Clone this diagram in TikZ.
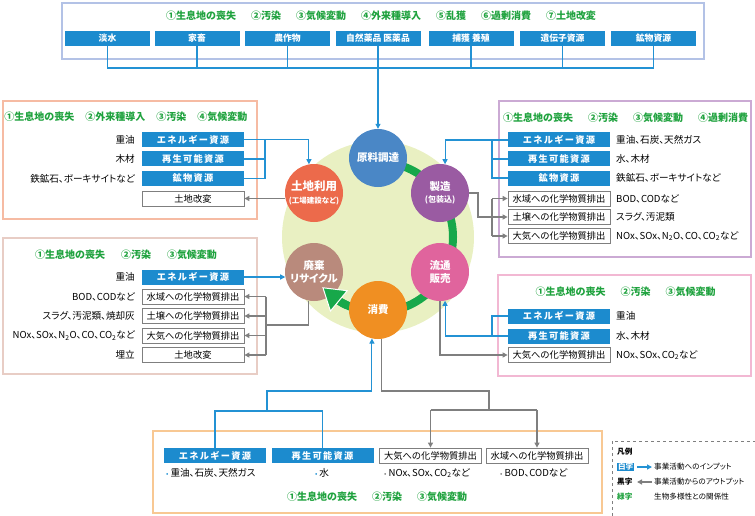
\documentclass[tikz,border=0pt]{standalone}
\usepackage{fontspec}
\setmainfont{Noto Sans CJK JP}[RawFeature=+palt]
\newfontfamily\plainfont{Noto Sans CJK JP}
\newfontfamily\bxfont{Noto Sans CJK JP}[LetterSpace=14]
\usetikzlibrary{arrows.meta,bending}
\definecolor{boxblue}{HTML}{1C8BCE}
\definecolor{lineblue}{HTML}{2392D4}
\definecolor{linegray}{HTML}{7F7F7F}
\definecolor{headgreen}{HTML}{1FA23E}
\definecolor{frtop}{HTML}{B3C2E6}
\definecolor{frlt}{HTML}{F6BBA3}
\definecolor{frlm}{HTML}{E8CDC5}
\definecolor{frrt}{HTML}{CBAAD4}
\definecolor{frrm}{HTML}{F2B8D3}
\definecolor{frbt}{HTML}{F8C893}
\definecolor{pale}{HTML}{E9F0C2}
\definecolor{ringgreen}{HTML}{17A84A}
\definecolor{cgenryo}{HTML}{4A87C6}
\definecolor{cseizo}{HTML}{9A5BA2}
\definecolor{cryutsu}{HTML}{E0649D}
\definecolor{cshohi}{HTML}{F08F22}
\definecolor{chaiki}{HTML}{B98A7C}
\definecolor{ctochi}{HTML}{EC6A4B}
\newcommand{\hgap}{\hspace{1.5em}}
\newcommand{\bulx}[1]{{\color{#1}\fontsize{7}{8}\selectfont •}\hspace{2pt}}
\begin{document}
\begin{tikzpicture}[x=1pt,y=-1pt,
  fr/.style={draw=#1,line width=1.8pt},
  bbox/.style={rectangle,fill=boxblue,text=white,font=\bxfont\bfseries\fontsize{9.2}{10}\selectfont,minimum width=102pt,minimum height=15pt,inner sep=0pt},
  tbox/.style={bbox,minimum width=85pt,font=\plainfont\bfseries\fontsize{8.8}{10}\selectfont},
  wbox/.style={rectangle,draw=linegray,line width=0.8pt,fill=white,text=black,font=\plainfont\fontsize{9.3}{10}\selectfont,minimum width=102pt,minimum height=15pt,inner sep=0pt},
  lab/.style={font=\fontsize{9.6}{10}\selectfont,inner sep=0pt},
  head/.style={font=\plainfont\bfseries\fontsize{10}{11}\selectfont,text=headgreen,inner sep=0pt},
  inln/.style={draw=lineblue,line width=1.1pt},
  outln/.style={draw=linegray,line width=1.1pt},
  inarr/.style={inln,-{Triangle[length=5pt,width=5pt]}},
  outarr/.style={outln,-{Triangle[length=5pt,width=5pt]}},
  stg/.style={circle,fill=#1,text=white,minimum size=58pt,inner sep=0pt,align=center,font=\bfseries\fontsize{10.5}{12.5}\selectfont},
  ring/.style={draw=ringgreen,line width=8pt},
  legt/.style={font=\fontsize{7.6}{9}\selectfont,inner sep=0pt,anchor=west}
]
\useasboundingbox (0,0) rectangle (755,516);

% frames
\draw[fr=frtop] (62,3) rectangle (704,59);
\draw[fr=frlt] (3,101) rectangle (257,219);
\draw[fr=frlm] (3,238) rectangle (257,374);
\draw[fr=frrt] (499,101) rectangle (751,257);
\draw[fr=frrm] (498,275) rectangle (751,376);
\draw[fr=frbt] (153,431) rectangle (602,513);

% cycle
\fill[pale] (378,237) circle[radius=96pt];
\draw[ring] ([shift={(-90:75)}]378,237) arc[start angle=-90,end angle=120,radius=75];
\node[stg=cgenryo] (genryo) at (378,158) {原料調達};
\node[stg=cseizo] (seizo) at (440,193) {製造\\{\fontsize{8}{9.5}\selectfont (包装込)}};
\node[stg=cryutsu] (ryutsu) at (440,272) {流通\\販売};
\node[stg=cshohi] (shohi) at (378,310) {消費};
\node[stg=chaiki] (haiki) at (314,272) {廃棄\\リサイクル};
\node[stg=ctochi] (tochi) at (314,193) {{\fontsize{11.5}{13}\selectfont 土地利用}\\{\fontsize{7.5}{9}\selectfont (工場建設など)}};
\draw[ring,-{Triangle[length=22pt,width=28pt,line width=1pt,color=white,fill=ringgreen]}] ([shift={(114:75)}]378,237) arc[start angle=114,end angle=138,radius=75];

% top box
\node[head] (tophead) at (381,16) {①生息地の喪失\hgap②汚染\hgap③気候変動\hgap④外来種導入\hgap⑤乱獲\hgap⑥過剰消費\hgap⑦土地改変};
\node[tbox] (t1) at (107.5,38.5) {淡水};
\node[tbox] (t2) at (197,38.5) {家畜};
\node[tbox] (t3) at (287.5,38.5) {農作物};
\node[tbox] (t4) at (378,38.5) {自然薬品 医薬品};
\node[tbox] (t5) at (471,38.5) {捕獲 養殖};
\node[tbox] (t6) at (562.5,38.5) {遺伝子資源};
\node[tbox] (t7) at (653.5,38.5) {鉱物資源};
\coordinate (tj) at (378,68);
\draw[inln] (t1.south) |- (t7.south |- tj) -- (t7.south);
\foreach \t in {t2,t3,t5,t6} \draw[inln] (\t.south) -- (\t.south |- tj);
\draw[inarr] (t4.south) -- (genryo.north);

% left top
\node[head] (lthead) at (126,117) {①生息地の喪失\hspace{1.1em}②外来種導入\hspace{1.1em}③汚染\hspace{1.1em}④気候変動};
\node[bbox] (l1) at (193,139.5) {エネルギー資源};
\node[bbox] (l2) at (193,159) {再生可能資源};
\node[bbox] (l3) at (193,178.5) {鉱物資源};
\node[wbox] (l4) at (193,198.5) {土地改変};
\node[lab,anchor=east] (ll1) at (135,139.5) {重油};
\node[lab,anchor=east] (ll2) at (135,159) {木材};
\node[lab,anchor=east] (ll3) at (135,178.5) {鉄鉱石、ボーキサイトなど};
\coordinate (lv) at (265,0);
\draw[inarr] (l1.east) -| (tochi.100);
\draw[inln] (l3.east) -- (l3.east -| lv) -- (l1.east -| lv);
\draw[inln] (l2.east) -- (l2.east -| lv);
\draw[outarr] (tochi.190 |- l4.east) -- (l4.east);

% left middle
\node[head] (lmhead) at (126,255) {①生息地の喪失\hspace{1.6em}②汚染\hspace{1.6em}③気候変動};
\node[bbox] (m1) at (193,277) {エネルギー資源};
\node[wbox] (m2) at (193,296.5) {水域への化学物質排出};
\node[wbox] (m3) at (193,316) {土壌への化学物質排出};
\node[wbox] (m4) at (193,335.5) {大気への化学物質排出};
\node[wbox] (m5) at (193,355) {土地改変};
\node[lab,anchor=east] (ml1) at (135,277) {重油};
\node[lab,anchor=east] (ml2) at (135,296.5) {BOD、CODなど};
\node[lab,anchor=east] (ml3) at (135,316) {スラグ、汚泥類、焼却灰};
\node[lab,anchor=east] (ml4) at (135,335.5) {NOx、SOx、N\textsubscript{2}O、CO、CO\textsubscript{2}など};
\node[lab,anchor=east] (ml5) at (135,355) {埋立};
\draw[inarr] (m1.east) -- (haiki.190 |- m1.east);
\coordinate (hv) at (266,325);
\draw[outln] (haiki.260) |- (hv);
\draw[outln] (m2.east -| hv) -- (m5.east -| hv);
\foreach \m in {m2,m3,m4,m5} \draw[outarr] (\m.east -| hv) -- (\m.east);

% right top
\node[head] (rthead) at (625.5,118) {①生息地の喪失\hgap②汚染\hgap③気候変動\hgap④過剰消費};
\node[bbox] (r1) at (559,140) {エネルギー資源};
\node[bbox] (r2) at (559,159) {再生可能資源};
\node[bbox] (r3) at (559,178) {鉱物資源};
\node[wbox] (r4) at (559,198.5) {水域への化学物質排出};
\node[wbox] (r5) at (559,217) {土壌への化学物質排出};
\node[wbox] (r6) at (559,236) {大気への化学物質排出};
\node[lab,anchor=west] (rl1) at (616,140) {重油、石炭、天然ガス};
\node[lab,anchor=west] (rl2) at (616,159) {水、木材};
\node[lab,anchor=west] (rl3) at (616,178) {鉄鉱石、ボーキサイトなど};
\node[lab,anchor=west] (rl4) at (616,198.5) {BOD、CODなど};
\node[lab,anchor=west] (rl5) at (616,217) {スラグ、汚泥類};
\node[lab,anchor=west] (rl6) at (616,236) {NOx、SOx、N\textsubscript{2}O、CO、CO\textsubscript{2}など};
\coordinate (rv) at (492,0);
\coordinate (sv) at (478,0);
\draw[inarr] (r1.west) -| (seizo.80);
\draw[inln] (r3.west) -- (r3.west -| rv) -- (r1.west -| rv);
\draw[inln] (r2.west) -- (r2.west -| rv);
\draw[outln] (seizo.east) -- (seizo.east -| sv) |- (r5.west -| rv);
\draw[outln] (r4.west -| rv) -- (r6.west -| rv);
\foreach \r in {r4,r5,r6} \draw[outarr] (\r.west -| rv) -- (\r.west);

% right middle
\node[head] (rmhead) at (625.5,292) {①生息地の喪失\hgap②汚染\hgap③気候変動};
\node[bbox] (s1) at (559,316) {エネルギー資源};
\node[bbox] (s2) at (559,336) {再生可能資源};
\node[wbox] (s3) at (559,355) {大気への化学物質排出};
\node[lab,anchor=west] (sl1) at (616,316) {重油};
\node[lab,anchor=west] (sl2) at (616,336) {水、木材};
\node[lab,anchor=west] (sl3) at (616,355) {NOx、SOx、CO\textsubscript{2}など};
\draw[inln] (s1.west) -- (s1.west -| rv) -- (s2.west -| rv);
\draw[inarr] (s2.west) -| (ryutsu.280);
\draw[outarr] (ryutsu.south) |- (s3.west);

% bottom
\node[bbox] (b1) at (215,455.5) {エネルギー資源};
\node[bbox] (b2) at (322.5,455.5) {再生可能資源};
\node[wbox] (b3) at (430.5,455.5) {大気への化学物質排出};
\node[wbox] (b4) at (537,455.5) {水域への化学物質排出};
\node[lab,anchor=west] (bl1) at (166,473) {\bulx{lineblue}重油、石炭、天然ガス};
\node[lab] (bl2) at (322,473) {\bulx{lineblue}水};
\node[lab,anchor=west] (bl3) at (384,473) {\bulx{linegray}NOx、SOx、CO\textsubscript{2}など};
\node[lab,anchor=west] (bl4) at (500,473) {\bulx{linegray}BOD、CODなど};
\node[head] (bhead) at (377,497) {①生息地の喪失\hgap②汚染\hgap③気候変動};
\coordinate (bj) at (267,411);
\coordinate (bk) at (267,391);
\draw[inln] (b1.north) |- (b2.north |- bj) -- (b2.north);
\draw[inarr] (bj) -- (bk) -| (shohi.258);
\coordinate (gj) at (489,391);
\coordinate (gk) at (489,410);
\draw[outln] (shohi.276) |- (gj) -- (gk);
\draw[outln] (b3.north |- gk) -- (b4.north |- gk);
\draw[outarr] (b3.north |- gk) -- (b3.north);
\draw[outarr] (b4.north |- gk) -- (b4.north);

% legend
\draw[dashed,linegray,line width=0.6pt] (612,516) -- (612,441) -- (755,441);
\node[legt,font=\bfseries\fontsize{7.6}{9}\selectfont] (lg0) at (617,452) {凡例};
\node[legt,fill=boxblue,text=white,inner sep=0.8pt,font=\bfseries\fontsize{7.6}{9}\selectfont] (lg1) at (617,467) {白字};
\coordinate (la1) at (637,467);
\coordinate (la2) at (652,467);
\draw[lineblue,line width=1.3pt,-{Triangle[length=5pt,width=5pt]}] (la1) -- (la2);
\node[legt] (lgt1) at (654,467) {事業活動へのインプット};
\node[legt,font=\bfseries\fontsize{7.6}{9}\selectfont] (lg2) at (617,482) {黒字};
\coordinate (lb1) at (652,482);
\coordinate (lb2) at (637,482);
\draw[linegray,line width=1.3pt,-{Triangle[length=5pt,width=5pt]}] (lb1) -- (lb2);
\node[legt] (lgt2) at (654,482) {事業活動からのアウトプット};
\node[legt,font=\bfseries\fontsize{7.6}{9}\selectfont,text=headgreen] (lg3) at (617,497) {緑字};
\node[legt] (lgt3) at (654,497) {生物多様性との関係性};
\end{tikzpicture}
\end{document}
